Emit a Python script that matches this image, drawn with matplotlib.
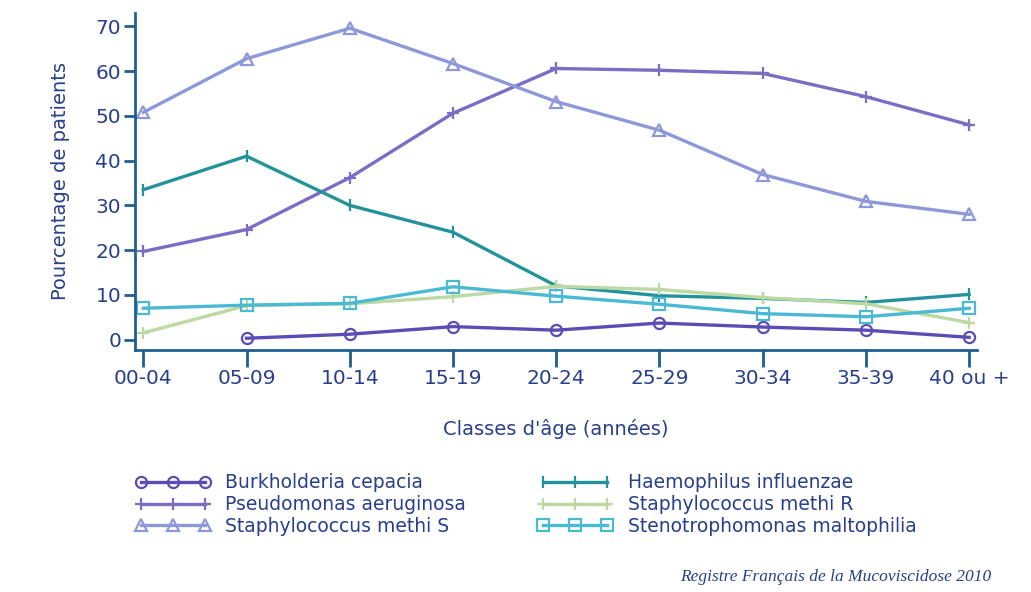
import matplotlib.pyplot as plt
import numpy as np

# classes d'age
classes = ["00-04", "05-09", "10-14", "15-19", "20-24", "25-29", "30-34", "35-39", "40 ou +"]

# pourcentages
burkholderia = [np.nan, 0.3, 1.2, 2.9, 2.1, 3.7, 2.8, 2.1, 0.5]
pseudomonas = [19.7, 24.6, 36.2, 50.6, 60.6, 60.2, 59.5, 54.3, 48.0]
staph_s = [50.8, 62.8, 69.6, 61.7, 53.2, 46.8, 36.9, 30.9, 28.0]
haemophilus = [33.5, 41.0, 30.0, 24.0, 12.0, 9.8, 9.2, 8.3, 10.1]
staph_r = [1.5, 7.6, 8.0, 9.6, 11.9, 11.2, 9.4, 8.0, 3.8]
steno = [7.0, 7.7, 8.1, 11.8, 9.7, 7.9, 5.8, 5.1, 7.0]

ytick_vals = [0, 10, 20, 30, 40, 50, 60, 70]

col_axe = "#1f5f8f"
col_txt = "#283f8c"

plt.rcParams['font.family'] = ['DejaVu Sans']

fig = plt.figure(figsize=(10.31, 5.92), dpi=100)
ax = fig.add_axes([0.131, 0.409, 0.817, 0.569])

x = np.arange(len(classes))

series = [
    ("Burkholderia cepacia", burkholderia, "#5a4cb4", "o", "none"),
    ("Pseudomonas aeruginosa", pseudomonas, "#7d6cc4", "+", None),
    ("Staphylococcus methi S", staph_s, "#8d98d8", "^", "none"),
    ("Haemophilus influenzae", haemophilus, "#23939b", "|", None),
    ("Staphylococcus methi R", staph_r, "#bcd9a4", "+", None),
    ("Stenotrophomonas maltophilia", steno, "#4ab9d3", "s", "none"),
]

lignes = {}
for nom, vals, c, m, fc in series:
    kw = dict(color=c, marker=m, markersize=8, markeredgewidth=1.6, linewidth=2.4, label=nom)
    if fc is not None:
        kw["markerfacecolor"] = fc
    lignes[nom], = ax.plot(x, vals, **kw)

ax.set_xlim(-0.08, 8.08)
ax.set_ylim(-2.3, 73)
ax.set_xticks(x)
ax.set_xticklabels(classes)
ax.set_yticks(ytick_vals)

for s in ["top", "right"]:
    ax.spines[s].set_visible(False)
for s in ["left", "bottom"]:
    ax.spines[s].set_color(col_axe)
    ax.spines[s].set_linewidth(2)

ax.tick_params(axis="x", length=12, width=2, color=col_axe, labelcolor=col_txt, labelsize=14.5, pad=2)
ax.tick_params(axis="y", length=8, width=2, color=col_axe, labelcolor=col_txt, labelsize=14.5, pad=2)

ax.set_xlabel("Classes d'âge (années)", color=col_txt, fontsize=14, labelpad=22)
ax.set_ylabel("Pourcentage de patients", color=col_txt, fontsize=14, labelpad=18)

# legende en deux colonnes: gauche = 3 premieres series, droite = 3 dernieres
ordre = [s[0] for s in series]
handles = [lignes[n] for n in ordre]
leg = fig.legend(handles, ordre, ncol=2, loc="upper left", bbox_to_anchor=(0.115, 0.229),
                 frameon=False, numpoints=3, handlelength=4.0, fontsize=13.5,
                 labelspacing=0.15, columnspacing=3.8, handletextpad=0.8)
for t in leg.get_texts():
    t.set_color(col_txt)

fig.text(0.962, 0.012, "Registre Français de la Mucoviscidose 2010", ha="right", va="bottom",
         fontsize=12.5, style="italic", family="Liberation Serif", color=col_txt)

fig.savefig("out.png", dpi=100)
